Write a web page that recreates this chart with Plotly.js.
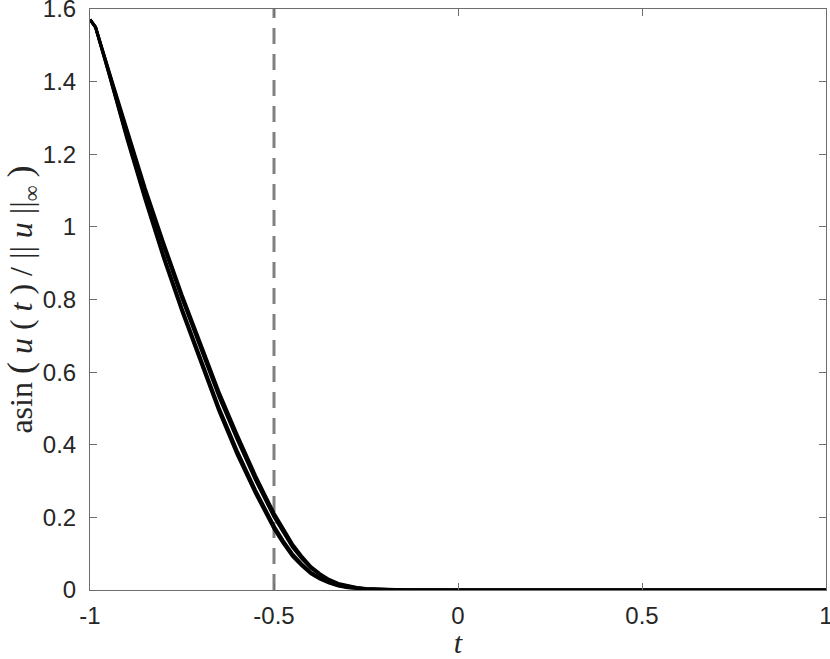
<!DOCTYPE html>
<html>
<head>
<meta charset="utf-8">
<script src="https://cdn.plot.ly/plotly-3.0.1.min.js"></script>
<style>html,body{margin:0;padding:0;background:#fff;}#chart{width:830px;height:659px;}</style>
</head>
<body>
<div id="chart"></div>
<script>
const t = [-1, -0.985, -0.95, -0.9, -0.85, -0.8, -0.75, -0.7, -0.65, -0.6, -0.55, -0.5, -0.475, -0.45, -0.425, -0.4, -0.375, -0.35, -0.325, -0.3, -0.275, -0.25, -0.2, -0.15, -0.1, 0, 0.5, 1];
const curveA = [1.571, 1.55, 1.434, 1.267, 1.107, 0.957, 0.814, 0.681, 0.547, 0.428, 0.315, 0.212, 0.168, 0.127, 0.094, 0.065, 0.045, 0.029, 0.018, 0.0115, 0.0068, 0.004, 0.0013, 0.0004, 0.0001, 0, 0, 0];
const curveB = [1.571, 1.55, 1.432, 1.261, 1.098, 0.946, 0.802, 0.668, 0.533, 0.414, 0.302, 0.201, 0.158, 0.118, 0.087, 0.060, 0.041, 0.026, 0.016, 0.010, 0.006, 0.0035, 0.0011, 0.0003, 0.0001, 0, 0, 0];
const curveC = [1.571, 1.55, 1.428, 1.248, 1.080, 0.922, 0.776, 0.640, 0.504, 0.384, 0.275, 0.177, 0.136, 0.100, 0.072, 0.049, 0.033, 0.021, 0.0125, 0.0075, 0.0045, 0.0025, 0.0009, 0.0002, 0.0001, 0, 0, 0];
const curveD = [1.571, 1.55, 1.426, 1.243, 1.073, 0.913, 0.766, 0.629, 0.493, 0.372, 0.265, 0.168, 0.128, 0.093, 0.067, 0.045, 0.030, 0.019, 0.011, 0.0065, 0.004, 0.002, 0.0008, 0.0002, 0.0001, 0, 0, 0];
const markerT = [-0.5, -0.5];
const markerY = [0, 1.6];
const xTicks = [-1, -0.5, 0, 0.5, 1];
const xTickText = ['-1', '-0.5', '0', '0.5', '1'];
const yTicks = [0, 0.2, 0.4, 0.6, 0.8, 1, 1.2, 1.4, 1.6];
const yTickText = ['0', '0.2', '0.4', '0.6', '0.8', '1', '1.2', '1.4', '1.6'];

const curves = [curveA, curveB, curveC, curveD];
const traces = [{
  x: markerT, y: markerY, mode: 'lines', type: 'scatter',
  line: {color: '#808080', width: 3, dash: '16px,10px'}, hoverinfo: 'skip', showlegend: false
}];
curves.forEach(c => traces.push({
  x: t, y: c, mode: 'lines', type: 'scatter',
  line: {color: '#000000', width: 3}, showlegend: false
}));

const axisColor = '#6e6e6e';
const tickFont = {family: 'Liberation Sans, Arial, sans-serif', size: 24, color: '#262626'};
const sp = '\u2005';
const bp = s => '<span style="font-size:36px">' + s + '</span>';
const yTitle = 'asin' + sp + bp('(') + sp + '<i>u</i>' + sp + '(' + sp + '<i>t</i>' + sp + ')' + sp + '/' + sp + '||' + sp + '<i>u</i>' + sp + '||' + '<sub>∞</sub>' + sp + bp(')');
const layout = {
  width: 830, height: 659,
  margin: {l: 90, r: 4, t: 9, b: 69},
  paper_bgcolor: '#fff', plot_bgcolor: '#fff',
  showlegend: false,
  xaxis: {
    range: [-1, 1], tickvals: xTicks, ticktext: xTickText,
    showgrid: false, zeroline: false, showline: true, mirror: 'ticks',
    linecolor: axisColor, linewidth: 1, ticks: 'inside', ticklen: 7, tickcolor: axisColor, tickwidth: 1,
    tickfont: tickFont, ticklabelstandoff: 4, ticklabeloverflow: 'allow',
    title: {text: '<i>t</i>', font: {family: 'Liberation Serif, serif', size: 30, color: '#262626'}, standoff: 0}
  },
  yaxis: {
    range: [0, 1.6], tickvals: yTicks, ticktext: yTickText,
    showgrid: false, zeroline: false, showline: true, mirror: 'ticks',
    linecolor: axisColor, linewidth: 1, ticks: 'inside', ticklen: 7, tickcolor: axisColor, tickwidth: 1,
    tickfont: tickFont, ticklabelstandoff: 8, ticklabeloverflow: 'allow',
    title: {text: yTitle, font: {family: 'Liberation Serif, serif', size: 32, color: '#262626'}, standoff: 4}
  }
};
Plotly.newPlot('chart', traces, layout, {staticPlot: true, displayModeBar: false});
</script>
</body>
</html>
